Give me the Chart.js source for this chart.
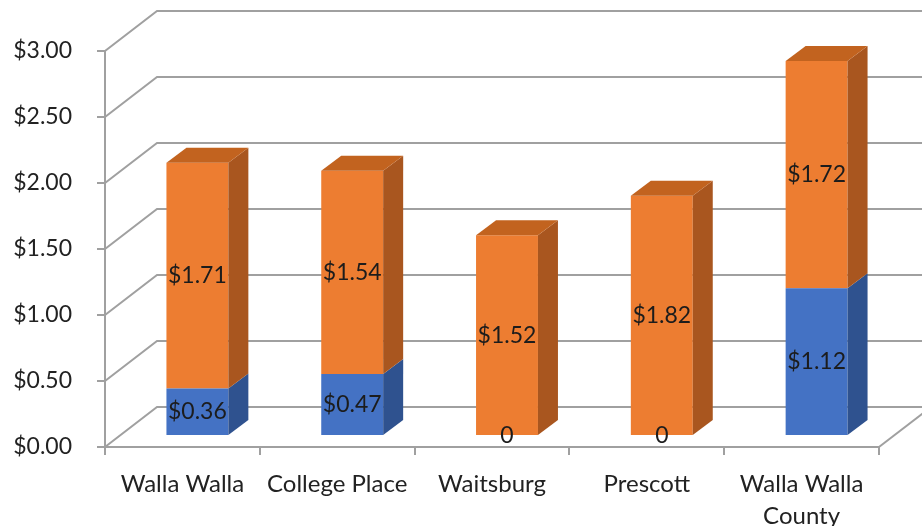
<!DOCTYPE html>
<html>
<head>
<meta charset="utf-8">
<title>Cost per unit</title>
<script src="https://cdn.jsdelivr.net/npm/chart.js@4.4.1/dist/chart.umd.min.js"></script>
<style>
  html, body { margin: 0; padding: 0; background: #fff; }
  #wrap { width: 922px; height: 526px; }
</style>
</head>
<body>
<div id="wrap"><canvas id="cost-chart" width="922" height="526"></canvas></div>
<script>
"use strict";

// Data
var places = [["Walla Walla"], ["College Place"], ["Waitsburg"], ["Prescott"], ["Walla Walla", "County"]];
var lowerValues = [0.36, 0.47, 0, 0, 1.12];
var upperValues = [1.71, 1.54, 1.52, 1.82, 1.72];
var yTicks = [0, 0.5, 1, 1.5, 2, 2.5, 3];

// 3D look
var DEPTH_X = 52, DEPTH_Y = 40;      // floor / back wall depth
var BAR_DX = 15, BAR_DY = -11;       // bar front face offset from the front plane
var BAR_SIDE_X = 20, BAR_SIDE_Y = 15; // bar thickness
var GRID = "#a0a0a0";
var FONT = "Lato, 'Open Sans', sans-serif";

var shades = [
    { front: "#4472c4", side: "#2f528f", top: "#3a62aa" },
    { front: "#ed7d31", side: "#a9561f", top: "#c2631f" }
];

function money(v) {
    return v === 0 ? "0" : "$" + v.toFixed(2);
}

var bar3d = {
    id: "bar3d",
    beforeDatasetsDraw: function (chart) {
        var ctx = chart.ctx, area = chart.chartArea, y = chart.scales.y;
        ctx.save();
        ctx.strokeStyle = GRID;
        ctx.lineWidth = 2;
        yTicks.forEach(function (v) {
            var py = y.getPixelForValue(v);
            ctx.beginPath();
            ctx.moveTo(area.left, py);
            ctx.lineTo(area.left + DEPTH_X, py - DEPTH_Y);
            ctx.lineTo(chart.width + 10, py - DEPTH_Y);
            ctx.stroke();
        });
        // right edge of the floor
        ctx.beginPath();
        ctx.moveTo(area.right, area.bottom);
        ctx.lineTo(area.right + DEPTH_X, area.bottom - DEPTH_Y);
        ctx.stroke();
        ctx.restore();
    },
    beforeDatasetDraw: function (chart) {
        chart.ctx.save();
        chart.ctx.translate(BAR_DX, BAR_DY);
    },
    afterDatasetDraw: function (chart) {
        chart.ctx.restore();
    },
    afterDatasetsDraw: function (chart) {
        var ctx = chart.ctx;
        var metas = chart.data.datasets.map(function (d, i) { return chart.getDatasetMeta(i); });
        ctx.save();
        ctx.translate(BAR_DX, BAR_DY);

        // side and top faces
        places.forEach(function (p, idx) {
            var topDs = -1;
            metas.forEach(function (meta, di) {
                var v = chart.data.datasets[di].data[idx];
                if (v <= 0) return;
                topDs = di;
                var b = meta.data[idx].getProps(["x", "y", "base", "width"], true);
                var x2 = b.x + b.width / 2;
                ctx.fillStyle = shades[di].side;
                ctx.beginPath();
                ctx.moveTo(x2, b.y);
                ctx.lineTo(x2 + BAR_SIDE_X, b.y - BAR_SIDE_Y);
                ctx.lineTo(x2 + BAR_SIDE_X, b.base - BAR_SIDE_Y);
                ctx.lineTo(x2, b.base);
                ctx.closePath();
                ctx.fill();
            });
            if (topDs < 0) return;
            var t = metas[topDs].data[idx].getProps(["x", "y", "width"], true);
            var x1 = t.x - t.width / 2, xr = t.x + t.width / 2;
            ctx.fillStyle = shades[topDs].top;
            ctx.beginPath();
            ctx.moveTo(x1, t.y);
            ctx.lineTo(xr, t.y);
            ctx.lineTo(xr + BAR_SIDE_X, t.y - BAR_SIDE_Y);
            ctx.lineTo(x1 + BAR_SIDE_X, t.y - BAR_SIDE_Y);
            ctx.closePath();
            ctx.fill();
        });

        // value labels
        ctx.fillStyle = "#1c1c1c";
        ctx.font = "23px " + FONT;
        ctx.textAlign = "center";
        ctx.textBaseline = "middle";
        metas.forEach(function (meta, di) {
            meta.data.forEach(function (bar, idx) {
                var b = bar.getProps(["x", "y", "base"], true);
                ctx.fillText(money(chart.data.datasets[di].data[idx]), b.x, (b.y + b.base) / 2);
            });
        });
        ctx.restore();
    }
};

var ctx1 = document.getElementById("cost-chart").getContext("2d");
var costChart = new Chart(ctx1, {
    type: "bar",
    data: {
        labels: places,
        datasets: [{
            label: "Lower",
            data: lowerValues,
            backgroundColor: shades[0].front,
            clip: false
        }, {
            label: "Upper",
            data: upperValues,
            backgroundColor: shades[1].front,
            clip: false
        }]
    },
    options: {
        responsive: false,
        animation: false,
        devicePixelRatio: 1,
        layout: { padding: { left: 0, right: 43, top: 51, bottom: 0 } },
        datasets: { bar: { barPercentage: 1, categoryPercentage: 0.4 } },
        plugins: { legend: { display: false }, tooltip: { enabled: false } },
        scales: {
            x: {
                stacked: true,
                afterFit: function (s) { s.height = 79; },
                border: { color: GRID, width: 2 },
                grid: { drawOnChartArea: false, color: GRID, lineWidth: 2, tickLength: 8, offset: true },
                ticks: {
                    color: "#222222",
                    font: { family: FONT, size: 24, lineHeight: 1.3 },
                    padding: 14,
                    maxRotation: 0,
                    autoSkip: false
                }
            },
            y: {
                stacked: true,
                min: 0,
                max: 3,
                afterFit: function (s) { s.width = 105; },
                afterBuildTicks: function (s) {
                    s.ticks = yTicks.map(function (v) { return { value: v }; });
                },
                border: { color: GRID, width: 2 },
                grid: { drawOnChartArea: false, color: GRID, lineWidth: 2, tickLength: 8 },
                ticks: {
                    color: "#222222",
                    font: { family: FONT, size: 23 },
                    padding: 25,
                    callback: function (v) { return "$" + Number(v).toFixed(2); }
                }
            }
        }
    },
    plugins: [bar3d]
});
</script>
</body>
</html>
